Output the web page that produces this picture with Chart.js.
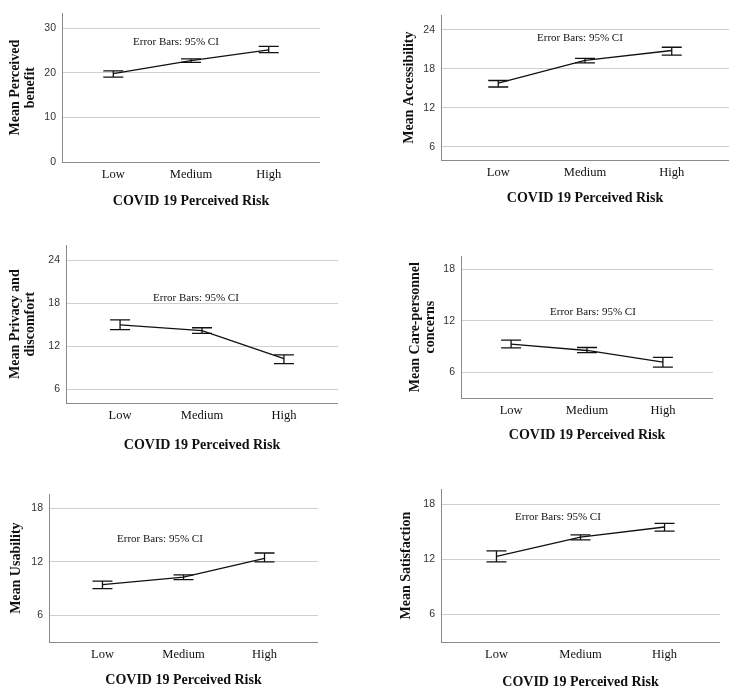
<!DOCTYPE html>
<html>
<head>
<meta charset="utf-8">
<script src="https://cdn.jsdelivr.net/npm/chart.js@4/dist/chart.umd.min.js"></script>
<style>
  body { margin: 0; background: #fff; }
  #wrap { position: relative; width: 743px; height: 697px; overflow: hidden; }
  canvas { position: absolute; }
</style>
</head>
<body>
<div id="wrap"></div>
<script>
// categories on the x axis
const riskLevels = ['Low', 'Medium', 'High'];

// means and 95% CI bounds
const benefitMean = [19.8, 22.7, 25.1];
const benefitLow  = [19.0, 22.3, 24.5];
const benefitHigh = [20.4, 23.1, 25.9];

const accessMean = [15.8, 19.3, 20.8];
const accessLow  = [15.2, 18.9, 20.1];
const accessHigh = [16.2, 19.6, 21.3];

const privacyMean = [15.0, 14.2, 10.3];
const privacyLow  = [14.35, 13.8, 9.6];
const privacyHigh = [15.7, 14.6, 10.8];

const careMean = [9.3, 8.55, 7.2];
const careLow  = [8.85, 8.3, 6.6];
const careHigh = [9.75, 8.9, 7.75];

const usabilityMean = [9.45, 10.3, 12.4];
const usabilityLow  = [9.0, 10.0, 12.0];
const usabilityHigh = [9.85, 10.55, 13.0];

const satisMean = [12.3, 14.4, 15.5];
const satisLow  = [11.7, 14.1, 15.05];
const satisHigh = [12.9, 14.65, 15.9];

// y tick labels
const ticksBenefit = [0, 10, 20, 30];
const ticksWide = [6, 12, 18, 24];
const ticksNarrow = [6, 12, 18];

const xTitle = 'COVID 19 Perceived Risk';
const noteText = 'Error Bars: 95% CI';

// draw the CI whiskers + the note
const errorBarPlugin = {
  id: 'errorBars',
  afterDatasetsDraw(chart) {
    const ctx = chart.ctx;
    const x = chart.scales.x, y = chart.scales.y;
    const ds = chart.data.datasets[0];
    ctx.save();
    ctx.strokeStyle = '#111';
    ctx.lineWidth = 1.3;
    ds.lower.forEach((lo, i) => {
      const px = x.getPixelForValue(i);
      const y1 = y.getPixelForValue(lo), y2 = y.getPixelForValue(ds.upper[i]);
      ctx.beginPath();
      ctx.moveTo(px, y1); ctx.lineTo(px, y2);
      ctx.moveTo(px - 10, y1); ctx.lineTo(px + 10, y1);
      ctx.moveTo(px - 10, y2); ctx.lineTo(px + 10, y2);
      ctx.stroke();
    });
    const note = chart.options.plugins.errorBars;
    ctx.fillStyle = '#111';
    ctx.font = '11px "Liberation Serif"';
    ctx.textBaseline = 'middle';
    ctx.fillText(noteText, chart.chartArea.left + note.dx, chart.chartArea.top + note.dy);
    ctx.restore();
  }
};

const panels = [
  { title: ['Mean Perceived', 'benefit'], mean: benefitMean, lo: benefitLow, hi: benefitHigh, ticks: ticksBenefit, min: 0, max: 33.3,
    rx: 0, L: 62, T: 13, R: 320, B: 162, yt: 15, xt: 201, dx: 71, dy: 29 },
  { title: 'Mean Accessibility', mean: accessMean, lo: accessLow, hi: accessHigh, ticks: ticksWide, min: 4.0, max: 26.2,
    rx: 390, L: 441, T: 15, R: 729, B: 160, yt: 409.5, xt: 198, dx: 96, dy: 23 },
  { title: ['Mean Privacy and', 'discomfort'], mean: privacyMean, lo: privacyLow, hi: privacyHigh, ticks: ticksWide, min: 4.1, max: 26.1,
    rx: 0, L: 66, T: 245, R: 338, B: 403, yt: 15, xt: 445, dx: 87, dy: 53 },
  { title: ['Mean Care-personnel', 'concerns'], mean: careMean, lo: careLow, hi: careHigh, ticks: ticksNarrow, min: 3, max: 19.55,
    rx: 390, L: 461, T: 256, R: 713, B: 398, yt: 415, xt: 435, dx: 89, dy: 56 },
  { title: 'Mean Usability', mean: usabilityMean, lo: usabilityLow, hi: usabilityHigh, ticks: ticksNarrow, min: 3, max: 19.6,
    rx: 0, L: 49, T: 494, R: 318, B: 642, yt: 16, xt: 680, dx: 68, dy: 45 },
  { title: 'Mean Satisfaction', mean: satisMean, lo: satisLow, hi: satisHigh, ticks: ticksNarrow, min: 3, max: 19.6,
    rx: 390, L: 441, T: 489, R: 720, B: 642, yt: 406, xt: 682, dx: 74, dy: 28 }
];

const PAD = 12;
const titleLH = 15;

panels.forEach(p => {
  const cv = document.createElement('canvas');
  const top = p.T - PAD, bottom = p.xt + PAD;
  const w = p.R - p.rx, h = bottom - top;
  cv.style.left = p.rx + 'px';
  cv.style.top = top + 'px';
  cv.style.width = w + 'px';
  cv.style.height = h + 'px';
  cv.width = w; cv.height = h;
  document.getElementById('wrap').appendChild(cv);

  new Chart(cv, {
    type: 'line',
    data: {
      datasets: [{
        data: p.mean.map((v, i) => ({ x: i, y: v })),
        lower: p.lo,
        upper: p.hi,
        borderColor: '#111',
        borderWidth: 1.3,
        pointRadius: 0,
        tension: 0,
        fill: false
      }]
    },
    options: {
      responsive: false,
      animation: false,
      layout: { padding: { top: PAD, left: 0, right: 0, bottom: 0 } },
      plugins: {
        legend: { display: false },
        tooltip: { enabled: false },
        errorBars: { dx: p.dx, dy: p.dy }
      },
      scales: {
        x: {
          type: 'linear',
          min: -0.66, max: 2.66,
          afterBuildTicks: s => { s.ticks = riskLevels.map((_, i) => ({ value: i })); },
          afterFit: s => { s.height = bottom - p.B; },
          ticks: {
            padding: 5,
            color: '#111',
            font: { family: 'Liberation Serif', size: 12.5 },
            callback: v => riskLevels[v]
          },
          grid: { display: false, drawTicks: false },
          border: { display: true, color: '#8a8a8a', width: 1 },
          title: {
            display: true,
            text: xTitle,
            color: '#111',
            font: { family: 'Liberation Serif', size: 14, weight: 'bold', lineHeight: '15px' },
            padding: { top: 0, bottom: PAD - titleLH / 2 }
          }
        },
        y: {
          min: p.min, max: p.max,
          afterBuildTicks: s => { s.ticks = p.ticks.map(v => ({ value: v })); },
          afterFit: s => { s.width = p.L - p.rx; },
          ticks: {
            padding: 6,
            color: '#333',
            font: { family: 'Liberation Sans', size: 10.5 }
          },
          grid: { color: '#cfcfcf', lineWidth: 1, drawTicks: false },
          border: { display: true, color: '#8a8a8a', width: 1 },
          title: {
            display: true,
            text: p.title,
            color: '#111',
            font: { family: 'Liberation Serif', size: 14, weight: 'bold', lineHeight: '15px' },
            padding: { top: p.yt - p.rx - titleLH / 2, bottom: 0 }
          }
        }
      }
    },
    plugins: [errorBarPlugin]
  });
});
</script>
</body>
</html>
